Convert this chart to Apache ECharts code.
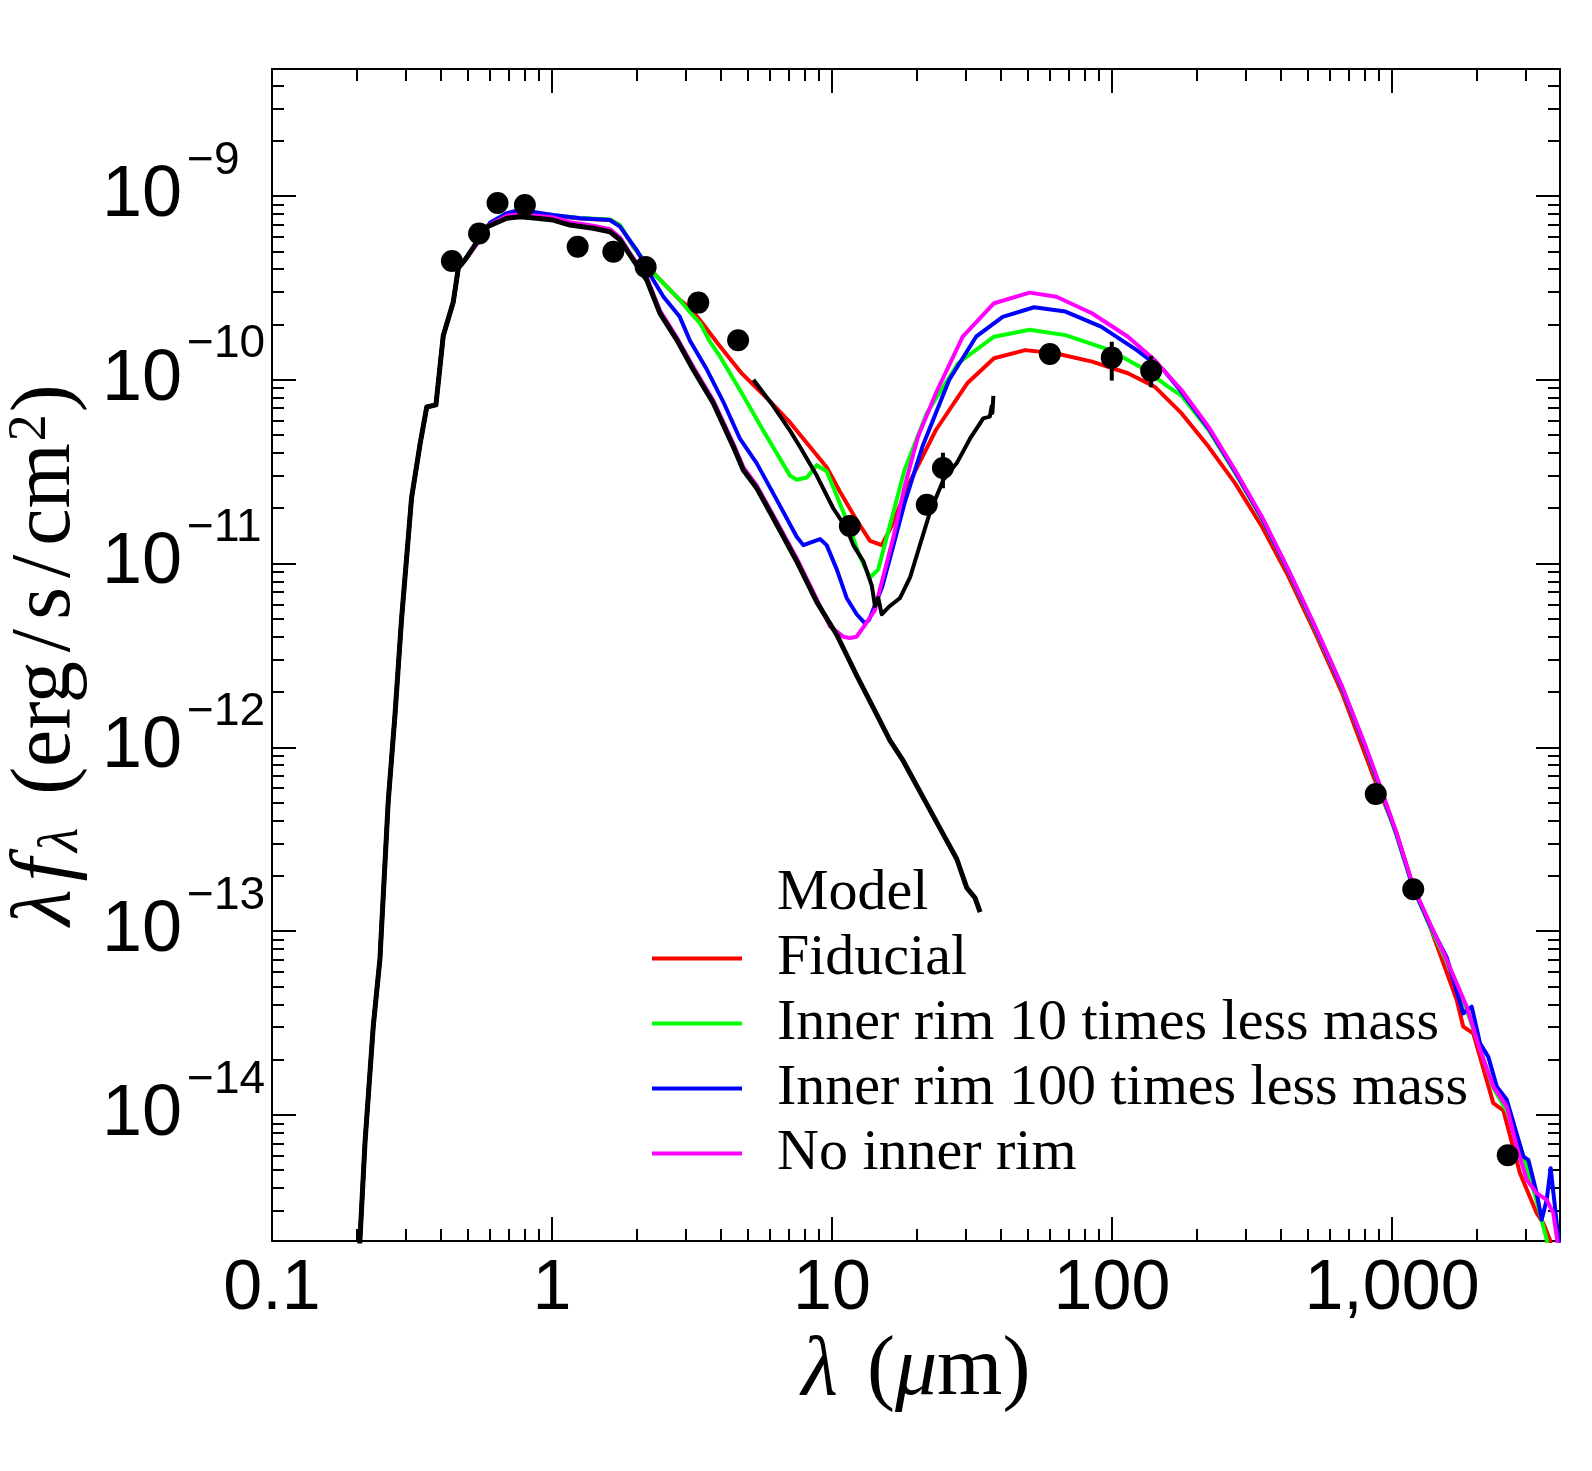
<!DOCTYPE html>
<html>
<head>
<meta charset="utf-8">
<script src="https://cdn.jsdelivr.net/npm/echarts@6/dist/echarts.min.js"></script>
<style>
  html, body { margin: 0; padding: 0; background: #fff; }
  #chart { width: 1592px; height: 1471px; }
</style>
</head>
<body>
<div id="chart"></div>
<script>
// axis ticks (log10 space)
const xDecades = [-1, 0, 1, 2, 3];
const xTickLabels = ['0.1', '1', '10', '100', '1,000'];
const yDecades = [-14, -13, -12, -11, -10, -9];
const minorSteps = [2, 3, 4, 5, 6, 7, 8, 9];

// stellar photosphere rise, shared by all model curves (um, erg/s/cm2)
const riseLam = [0.201, 0.215, 0.230, 0.243, 0.260, 0.275, 0.290, 0.315, 0.338, 0.357, 0.385, 0.409, 0.444, 0.463];
const riseFlux = [1.0e-15, 7.2e-15, 3.05e-14, 7.1e-14, 5.05e-13, 1.51e-12, 4.93e-12, 2.27e-11, 4.48e-11, 7.11e-11, 7.3e-11, 1.74e-10, 2.65e-10, 4.06e-10];

// photosphere model (black)
const modelLam = [0.489, 0.523, 0.585, 0.689, 0.769, 0.881, 1.01, 1.159, 1.404, 1.61, 1.749, 1.95, 2.18, 2.43, 2.79, 3.20, 3.77, 4.44, 4.82, 5.38, 6.35, 7.48, 8.82, 10.4, 12.25, 14.05, 16.1, 17.97, 21.2, 25.0, 27.9, 30.3, 32.4, 33.8];
const modelFlux = [4.49e-10, 5.24e-10, 6.78e-10, 7.56e-10, 7.71e-10, 7.56e-10, 7.40e-10, 6.95e-10, 6.67e-10, 6.39e-10, 5.77e-10, 4.49e-10, 3.49e-10, 2.30e-10, 1.65e-10, 1.13e-10, 7.45e-11, 4.33e-11, 3.23e-11, 2.58e-11, 1.63e-11, 1.03e-11, 6.18e-12, 4.10e-12, 2.46e-12, 1.64e-12, 1.09e-12, 8.43e-13, 5.31e-13, 3.35e-13, 2.47e-13, 1.72e-13, 1.52e-13, 1.27e-13];

// Fiducial (red)
const fidLam = [0.496, 0.538, 0.601, 0.689, 0.769, 1.01, 1.259, 1.61, 1.749, 1.95, 2.37, 2.86, 3.11, 3.38, 3.94, 4.77, 5.85, 7.08, 8.34, 9.57, 10.68, 12.25, 13.67, 15.05, 16.29, 18.86, 23.5, 30.4, 37.9, 49.0, 63.3, 84.9, 114, 142, 177, 221, 275, 343, 427, 532, 664, 859, 1039, 1191, 1367, 1702, 1797, 1950, 2300, 2498, 2865, 3287, 3470, 3666, 3800];
const fidFlux = [4.6e-10, 5.5e-10, 7.1e-10, 7.95e-10, 8.2e-10, 7.8e-10, 7.55e-10, 7.4e-10, 6.9e-10, 5.3e-10, 3.64e-10, 2.72e-10, 2.46e-10, 2.11e-10, 1.55e-10, 1.08e-10, 7.96e-11, 5.86e-11, 4.32e-11, 3.34e-11, 2.46e-11, 1.72e-11, 1.33e-11, 1.26e-11, 1.59e-11, 2.74e-11, 5.33e-11, 9.57e-11, 1.31e-10, 1.45e-10, 1.39e-10, 1.255e-10, 1.085e-10, 9.17e-11, 6.58e-11, 4.33e-11, 2.74e-11, 1.59e-11, 8.5e-12, 4.18e-12, 1.97e-12, 6.93e-13, 3.41e-13, 1.75e-13, 1.06e-13, 4.23e-14, 3.02e-14, 2.78e-14, 1.16e-14, 1.06e-14, 4.82e-15, 2.92e-15, 2.58e-15, 2.09e-15, 1.5e-15];

// Inner rim 10 times less mass (green)
const rim10Lam = [0.496, 0.538, 0.601, 0.689, 0.769, 1.01, 1.259, 1.61, 1.749, 1.95, 2.37, 2.86, 3.11, 3.38, 3.65, 3.98, 4.69, 5.68, 7.08, 7.48, 8.13, 8.82, 9.57, 10.4, 11.59, 12.59, 13.67, 14.63, 15.7, 18.16, 21.8, 28.2, 37.9, 50.8, 68.2, 98.4, 132, 158.5, 177, 221, 275, 343, 427, 532, 664, 798, 891, 1039, 1191, 1367, 1568, 1849, 2063, 2300, 2570, 2946, 3287, 3568, 3650];
const rim10Flux = [4.65e-10, 5.55e-10, 7.15e-10, 8.0e-10, 8.3e-10, 7.85e-10, 7.6e-10, 7.45e-10, 6.95e-10, 5.30e-10, 3.64e-10, 2.72e-10, 2.33e-10, 2.03e-10, 1.63e-10, 1.34e-10, 8.8e-11, 5.30e-11, 3.01e-11, 2.86e-11, 2.94e-11, 3.43e-11, 3.18e-11, 2.34e-11, 1.55e-11, 1.085e-11, 8.4e-12, 9.3e-12, 1.40e-11, 3.23e-11, 6.58e-11, 1.23e-10, 1.715e-10, 1.87e-10, 1.75e-10, 1.45e-10, 1.13e-10, 9.17e-11, 8.2e-11, 5.35e-11, 3.12e-11, 1.75e-11, 9.0e-12, 4.4e-12, 2.08e-12, 1.02e-12, 6.4e-13, 3.3e-13, 1.7e-13, 1.06e-13, 6.8e-14, 3.7e-14, 2.3e-14, 1.4e-14, 1.05e-14, 6.0e-15, 3.4e-15, 2.1e-15, 1.6e-15];

// Inner rim 100 times less mass (blue)
const rim100Lam = [0.496, 0.538, 0.601, 0.689, 0.769, 1.01, 1.259, 1.61, 1.749, 2.007, 2.30, 2.50, 2.86, 3.11, 3.57, 4.09, 4.69, 5.38, 6.35, 7.48, 7.90, 9.06, 9.57, 10.4, 11.28, 12.25, 13.12, 13.56, 15.12, 16.89, 18.16, 21.04, 26.2, 32.7, 40.7, 52.7, 68.2, 91.4, 122.6, 152.8, 177, 221, 275, 343, 427, 532, 664, 798, 891, 1039, 1191, 1367, 1568, 1797, 1926, 2063, 2208, 2366, 2570, 2946, 3070, 3287, 3425, 3568, 3687, 3819, 3932, 3981];
const rim100Flux = [4.65e-10, 5.55e-10, 7.15e-10, 8.05e-10, 8.39e-10, 7.88e-10, 7.56e-10, 7.40e-10, 6.81e-10, 5.08e-10, 3.49e-10, 2.83e-10, 2.20e-10, 1.63e-10, 1.14e-10, 7.59e-11, 4.78e-11, 3.52e-11, 2.22e-11, 1.40e-11, 1.26e-11, 1.36e-11, 1.26e-11, 9.3e-12, 6.5e-12, 5.3e-12, 4.73e-12, 4.93e-12, 7.48e-12, 1.40e-11, 2.13e-11, 4.33e-11, 9.98e-11, 1.715e-10, 2.20e-10, 2.48e-10, 2.35e-10, 1.945e-10, 1.45e-10, 1.13e-10, 8.6e-11, 5.45e-11, 3.17e-11, 1.77e-11, 9.1e-12, 4.47e-12, 2.1e-12, 1.03e-12, 6.5e-13, 3.35e-13, 1.72e-13, 1.08e-13, 7.2e-14, 3.57e-14, 3.88e-14, 2.45e-14, 2.07e-14, 1.43e-14, 1.21e-14, 5.93e-15, 5.69e-15, 3.75e-15, 2.69e-15, 3.45e-15, 5.13e-15, 3.17e-15, 2.09e-15, 1.62e-15];

// No inner rim (magenta)
const noRimLam = [0.496, 0.538, 0.601, 0.689, 0.769, 0.881, 1.01, 1.159, 1.404, 1.61, 1.749, 1.95, 2.18, 2.43, 2.79, 3.20, 3.77, 4.44, 4.82, 5.38, 6.35, 7.48, 8.82, 9.84, 10.97, 11.59, 12.25, 13.3, 14.25, 14.6, 16.58, 18.16, 20.28, 23.5, 29.3, 37.9, 50.8, 63.3, 84.8, 114, 142, 177, 221, 275, 343, 427, 532, 664, 798, 891, 1039, 1191, 1367, 1568, 1849, 2063, 2300, 2570, 2788, 3030, 3287, 3568, 3767, 3890, 3981];
const noRimFlux = [4.6e-10, 5.45e-10, 7.0e-10, 7.8e-10, 7.95e-10, 7.8e-10, 7.65e-10, 7.2e-10, 6.9e-10, 6.6e-10, 5.95e-10, 4.6e-10, 3.6e-10, 2.38e-10, 1.7e-10, 1.17e-10, 7.7e-11, 4.5e-11, 3.35e-11, 2.67e-11, 1.69e-11, 1.07e-11, 6.4e-12, 4.55e-12, 4.0e-12, 3.94e-12, 4.0e-12, 4.78e-12, 5.6e-12, 6.6e-12, 1.40e-11, 2.62e-11, 4.90e-11, 8.45e-11, 1.715e-10, 2.61e-10, 2.98e-10, 2.83e-10, 2.30e-10, 1.715e-10, 1.28e-10, 8.8e-11, 5.56e-11, 3.23e-11, 1.80e-11, 9.23e-12, 4.54e-12, 2.14e-12, 1.05e-12, 6.65e-13, 3.41e-13, 1.75e-13, 1.10e-13, 6.97e-14, 3.88e-14, 2.26e-14, 1.43e-14, 1.11e-14, 6.73e-15, 4.43e-15, 3.75e-15, 3.45e-15, 2.92e-15, 2.09e-15, 1.62e-15];

// mid-IR spectrum (black, noisy)
const specLam = [5.24, 6.17, 7.08, 7.69, 8.82, 10.1, 11.28, 11.91, 12.94, 13.87, 14.24, 14.63, 15.05, 16.1, 17.5, 19.0, 20.6, 22.4, 25.0, 27.9, 31.1, 34.7, 36.6, 37.2, 37.4, 37.7];
const specFlux = [1.0e-10, 7.2e-11, 5.29e-11, 4.31e-11, 3.01e-11, 2.0e-11, 1.55e-11, 1.26e-11, 1.03e-11, 7.58e-12, 5.88e-12, 6.5e-12, 5.3e-12, 5.88e-12, 6.5e-12, 8.4e-12, 1.26e-11, 1.91e-11, 2.86e-11, 3.52e-11, 4.78e-11, 6.17e-11, 6.3e-11, 7.2e-11, 6.6e-11, 8.17e-11];

// photometry
const photLam = [0.439, 0.549, 0.639, 0.80, 1.235, 1.656, 2.16, 3.33, 4.62, 11.58, 21.8, 24.9, 60.0, 99.8, 138, 875, 1191, 2590];
const photFlux = [4.43e-10, 6.25e-10, 9.15e-10, 8.92e-10, 5.30e-10, 4.97e-10, 4.11e-10, 2.63e-10, 1.64e-10, 1.60e-11, 2.09e-11, 3.31e-11, 1.38e-10, 1.32e-10, 1.12e-10, 5.57e-13, 1.69e-13, 6.03e-15];
const errLam = [24.9, 99.8, 138];
const errLow = [2.57e-11, 9.9e-11, 9.1e-11];
const errHigh = [4.01e-11, 1.61e-10, 1.35e-10];

const X_MIN = -1, X_MAX = 3.6;
const Y_MIN = -14.686, Y_MAX = -8.309;

const SANS = "'Liberation Sans', Arial, sans-serif";
const SERIF = "'Liberation Serif', 'Times New Roman', serif";

const lg = Math.log10;
function pts(lams, fluxes) {
  return lams.map((l, i) => [lg(l), lg(fluxes[i])]);
}
function minorTicks(lo, hi) {
  const out = [];
  for (let e = Math.floor(lo) - 1; e <= Math.ceil(hi); e++) {
    minorSteps.forEach(k => {
      const v = e + lg(k);
      if (v > lo && v < hi) out.push(v);
    });
  }
  return out;
}
const xMinor = minorTicks(X_MIN, X_MAX);
const yMinor = minorTicks(Y_MIN, Y_MAX);

const chart = echarts.init(document.getElementById('chart'));

function tickAxis(pos, values, len, isX, showLine) {
  return {
    type: 'value',
    position: pos,
    min: isX ? X_MIN : Y_MIN,
    max: isX ? X_MAX : Y_MAX,
    axisLine: { show: showLine, onZero: false, lineStyle: { color: '#000', width: 2 } },
    axisTick: { show: true, inside: true, length: len, customValues: values, lineStyle: { color: '#000', width: 2 } },
    axisLabel: { show: false },
    splitLine: { show: false }
  };
}

const lineSeries = (name, color, data, width) => ({
  name: name,
  type: 'line',
  data: data,
  color: color,
  showSymbol: false,
  symbol: 'none',
  lineStyle: { color: color, width: width || 4, join: 'round' },
  z: 3
});

const option = {
  backgroundColor: '#fff',
  animation: false,
  grid: { left: 272, top: 69, width: 1288, height: 1172, outerBoundsMode: 'none', containLabel: false },
  legend: {
    orient: 'vertical',
    left: 647,
    top: 856,
    itemWidth: 90,
    itemHeight: 4,
    itemGap: 0,
    icon: 'rect',
    selectedMode: false,
    textStyle: { fontFamily: SERIF, fontSize: 58, color: '#000', lineHeight: 65, padding: [0, 0, 0, 30] },
    data: [
      { name: 'Model', icon: 'none' },
      'Fiducial',
      'Inner rim 10 times less mass',
      'Inner rim 100 times less mass',
      'No inner rim'
    ]
  },
  xAxis: [
    {
      type: 'value',
      position: 'bottom',
      min: X_MIN,
      max: X_MAX,
      axisLine: { onZero: false, lineStyle: { color: '#000', width: 2 } },
      axisTick: { inside: true, length: 24, customValues: xDecades, lineStyle: { color: '#000', width: 2 } },
      axisLabel: {
        customValues: xDecades,
        margin: 14,
        color: '#000',
        fontFamily: SANS,
        fontSize: 70,
        formatter: v => xTickLabels[xDecades.indexOf(Math.round(v))]
      },
      splitLine: { show: false },
      name: '{it|λ}{sp| }{rm|(}{it|μ}{rm|m)}',
      nameLocation: 'middle',
      nameGap: 80,
      nameTextStyle: {
        color: '#000',
        rich: {
          it: { fontFamily: SERIF, fontStyle: 'italic', fontSize: 84, color: '#000' },
          rm: { fontFamily: SERIF, fontSize: 84, color: '#000' },
          sp: { fontFamily: SERIF, fontSize: 84, color: '#000', padding: [0, 4, 0, 4] }
        }
      }
    },
    tickAxis('bottom', xMinor, 12, true, false),
    tickAxis('top', xDecades, 24, true, true),
    tickAxis('top', xMinor, 12, true, false)
  ],
  yAxis: [
    {
      type: 'value',
      position: 'left',
      min: Y_MIN,
      max: Y_MAX,
      axisLine: { onZero: false, lineStyle: { color: '#000', width: 2 } },
      axisTick: { inside: true, length: 24, customValues: yDecades, lineStyle: { color: '#000', width: 2 } },
      axisLabel: {
        customValues: yDecades,
        margin: 170,
        align: 'left',
        formatter: v => '{b|10}{s|\u2212' + (-Math.round(v)) + '}',
        rich: {
          b: { fontFamily: SANS, fontSize: 72, lineHeight: 116, color: '#000' },
          s: { fontFamily: SANS, fontSize: 46, lineHeight: 46, verticalAlign: 'top', color: '#000', padding: [0, 0, 0, 5] }
        }
      },
      splitLine: { show: false },
      name: '{it|λ}{itf|f}{sub|λ}{sp| }{rm|(erg}{sl|/}{rm|s}{sl|/}{rm|cm}{sup|2}{rm|)}',
      nameLocation: 'middle',
      nameGap: 182,
      nameRotate: 90,
      nameTextStyle: {
        color: '#000',
        rich: {
          it: { fontFamily: SERIF, fontStyle: 'italic', fontSize: 84, lineHeight: 86, color: '#000' },
          itf: { fontFamily: SERIF, fontStyle: 'italic', fontSize: 84, lineHeight: 86, color: '#000', padding: [0, 6, 0, 8] },
          sub: { fontFamily: SERIF, fontStyle: 'italic', fontSize: 56, lineHeight: 40, verticalAlign: 'bottom', color: '#000' },
          sp: { fontFamily: SERIF, fontSize: 84, lineHeight: 86, color: '#000', padding: [0, 6, 0, 6] },
          rm: { fontFamily: SERIF, fontSize: 84, lineHeight: 86, color: '#000' },
          sl: { fontFamily: SERIF, fontSize: 84, lineHeight: 86, color: '#000', padding: [0, 9, 0, 9] },
          sup: { fontFamily: SERIF, fontSize: 54, lineHeight: 54, verticalAlign: 'top', color: '#000', padding: [0, 2, 0, 2] }
        }
      }
    },
    tickAxis('left', yMinor, 12, false, false),
    tickAxis('right', yDecades, 24, false, true),
    tickAxis('right', yMinor, 12, false, false)
  ],
  series: [
    lineSeries('Fiducial', '#ff0000', pts(riseLam.concat(fidLam), riseFlux.concat(fidFlux))),
    lineSeries('Inner rim 10 times less mass', '#00ff00', pts(riseLam.concat(rim10Lam), riseFlux.concat(rim10Flux))),
    lineSeries('Inner rim 100 times less mass', '#0000ff', pts(riseLam.concat(rim100Lam), riseFlux.concat(rim100Flux))),
    lineSeries('No inner rim', '#ff00ff', pts(riseLam.concat(noRimLam), riseFlux.concat(noRimFlux))),
    lineSeries('Model', '#000000', pts(riseLam.concat(modelLam), riseFlux.concat(modelFlux)), 5),
    lineSeries('Spectrum', '#000000', pts(specLam, specFlux)),
    {
      name: 'Error bars',
      type: 'custom',
      data: errLam.map((l, i) => [lg(l), lg(errLow[i]), lg(errHigh[i])]),
      renderItem: (params, api) => {
        const a = api.coord([api.value(0), api.value(1)]);
        const b = api.coord([api.value(0), api.value(2)]);
        return {
          type: 'line',
          shape: { x1: a[0], y1: a[1], x2: b[0], y2: b[1] },
          style: { stroke: '#000', lineWidth: 4 }
        };
      },
      z: 4
    },
    {
      name: 'Photometry',
      type: 'scatter',
      data: pts(photLam, photFlux),
      symbol: 'circle',
      symbolSize: 22,
      itemStyle: { color: '#000', opacity: 1 },
      z: 5
    }
  ]
};

chart.setOption(option);
</script>
</body>
</html>
